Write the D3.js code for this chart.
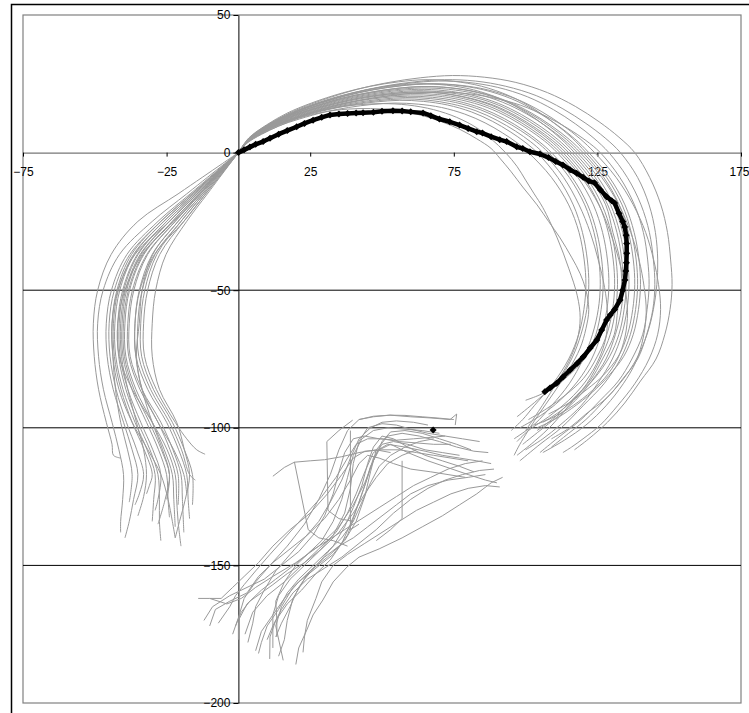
<!DOCTYPE html>
<html><head><meta charset="utf-8">
<script src="https://cdn.jsdelivr.net/npm/d3@7"></script>
<style>
body{margin:0;background:#fff}
svg{display:block}
text{font-family:Arial,"Liberation Sans",sans-serif;font-size:12px;fill:#000}
</style>
</head><body>
<svg id="chart" width="749" height="713"></svg>
<script>
// ---------- DATA ----------
const xTicks = [-75, -25, 25, 75, 125, 175];
const yTicks = [50, 0, -50, -100, -150, -200];
const gridY = [-50, -100, -150];

// right arc trajectories (x,y pairs)
const rightTracks = [
"0,0 4.1,5.6 11,10.6 19.3,15.1 29,19 41.4,23 52.4,25.5 63.5,27.2 74.5,28 85.6,27.4 96.6,25.5 107.6,21.8 117.3,16.8 125.6,11.2 132.5,5.6 138,0 143.2,-9 147.1,-19 149.4,-29 150.5,-39 151,-48 150.3,-57 148.5,-66 145.4,-75 140,-83 134.5,-91 128.5,-98 122,-104 117,-108",
"0,0 4,5.3 10.6,10.1 18.6,14.3 27.9,18 39.9,21.7 50.5,24.1 61.2,25.7 71.8,26.5 82.5,26 93.1,24.1 103.7,20.7 113,15.9 121,10.6 127.7,5.3 133,0 139,-9 143,-19 145.2,-29 146,-39 145.7,-48 144.5,-57 142.3,-66 138.6,-75 133.5,-83 127.5,-90 121,-97 115,-102 109,-107",
"0,0 3.9,5.2 10.3,9.9 18.1,14 27.1,17.7 38.7,21.3 49,23.7 59.3,25.2 69.7,26 80,25.5 90.3,23.7 100.6,20.3 109.7,15.6 117.4,10.4 123.8,5.2 129,0 135.4,-9 140.2,-19 143.1,-29 144.5,-39 145,-48 144.3,-57 142.2,-66 139,-75 134,-82 128.4,-89 121,-95 115.3,-100 109,-104",
"0,0 3.8,4.4 10.1,8.4 17.6,11.9 26.5,15 37.8,18 47.9,20 58,21.3 68,22 78.1,21.6 88.2,20 98.3,17.2 107.1,13.2 114.7,8.8 121,4.4 126,0 132.8,-9 137.9,-19 141,-29 142.5,-39 143,-48 142.3,-57 140.8,-66 137,-75 132.3,-83 126,-90 119,-97.3 112,-103 105,-109",
"0,0 3.7,5 9.9,9.5 17.4,13.5 26,17 37.2,20.5 47.1,22.8 57,24.3 67,25 76.9,24.5 86.8,22.8 96.7,19.5 105.4,15 112.8,10 119,5 124,0 131.5,-9 137.5,-19 141.8,-29 144.6,-39 146.3,-48 147,-57 146,-66 143,-75 138,-84 132,-92 126,-99 120,-104 116,-107 113,-109",
"0,0 3.7,5 9.8,9.5 17.1,13.5 25.6,17 36.6,20.5 46.4,22.8 56.1,24.3 65.9,25 75.6,24.5 85.4,22.8 95.2,19.5 103.7,15 111,10 117.1,5 122,0 129.2,-9 134.6,-19 137.8,-29 139.5,-39 140,-48 139.3,-57 137.5,-66 134.2,-74 129,-81 123.3,-87 116,-93 110,-97 104,-100",
"0,0 3.6,5.3 9.7,10 16.9,14.3 25.4,18 36.3,21.7 46,24.1 55.7,25.7 65.3,26.5 75,25.9 84.7,24.1 94.4,20.6 102.9,15.9 110.1,10.6 116.2,5.3 121,0 128.2,-9 133.6,-19 136.8,-29 138.5,-39 139,-48 138.3,-57 136.5,-66 133,-75 127.3,-84 120,-92 112.4,-100 105,-106 98,-112",
"0,0 3.6,4.8 9.6,9.1 16.8,13 25.2,16.3 36,19.7 45.6,21.8 55.2,23.3 64.8,24 74.4,23.5 84,21.8 93.6,18.7 102,14.4 109.2,9.6 115.2,4.8 120,0 127.2,-9 132.6,-19 135.8,-29 137.5,-39 138,-48 137.3,-57 135.5,-66 132.3,-74 127,-81 121.4,-86 115,-91 108,-95",
"0,0 3.6,4.8 9.5,9.1 16.7,13 25,16.3 35.7,19.7 45.2,21.8 54.7,23.3 64.3,24 73.8,23.5 83.3,21.8 92.8,18.7 101.2,14.4 108.3,9.6 114.2,4.8 119,0 126.5,-9 132.5,-19 136.6,-29 139.5,-39 141.3,-49 142,-58 141,-67 138.4,-76 134,-84 128,-92 121,-99 113.5,-104.5 106,-109",
"0,0 3.5,4.7 9.4,8.9 16.5,12.7 24.8,16 35.4,19.3 44.8,21.4 54.3,22.8 63.7,23.5 73.2,23 82.6,21.4 92,18.3 100.3,14.1 107.4,9.4 113.3,4.7 118,0 125.2,-9 130.6,-19 133.8,-29 135.5,-39 136,-48 135.3,-57 133.5,-66 130.2,-75 125,-84 119.3,-92 112,-99 106,-104 100,-108",
"0,0 3.5,5 9.4,9.5 16.4,13.5 24.6,17 35.1,20.5 44.5,22.8 53.8,24.3 63.2,25 72.5,24.5 81.9,22.8 91.3,19.5 99.5,15 106.5,10 112.3,5 117,0 124.2,-9 129.6,-19 132.8,-29 134.5,-39 135,-48 134.3,-57 132.5,-66 129.3,-74 124,-82 118.4,-88 112,-94 106,-98",
"0,0 3.5,4.6 9.3,8.7 16.2,12.4 24.4,15.6 34.8,18.9 44.1,20.9 53.4,22.3 62.6,23 71.9,22.5 81.2,20.9 90.5,17.9 98.6,13.8 105.6,9.2 111.4,4.6 116,0 123.2,-9 128.6,-19 131.8,-29 133.5,-39 134,-48 133.3,-57 131.3,-66 128,-75 123,-83 117.4,-90 111,-96 105,-101 99,-106",
"0,0 3.5,4.5 9.2,8.6 16.1,12.2 24.2,15.3 34.5,18.5 43.7,20.5 52.9,21.8 62.1,22.5 71.3,22 80.5,20.5 89.7,17.6 97.8,13.5 104.7,9 110.4,4.5 115,0 122.2,-9 127.9,-19 130.4,-29 132.8,-39 133.4,-48 132.1,-57 130.9,-66 126.8,-75 122.4,-83 116,-90 110.3,-96 104,-101",
"0,0 3.4,4.4 9.1,8.4 16,11.9 23.9,15 34.2,18 43.3,20 52.4,21.3 61.6,22 70.7,21.6 79.8,20 88.9,17.2 96.9,13.2 103.7,8.8 109.4,4.4 114,0 121.2,-9 126.6,-19 129.8,-29 131.5,-39 132,-48 131.3,-57 129.5,-66 126,-75 121.3,-84 115,-92 109.2,-99 103,-105 97,-110",
"0,0 3.4,4.4 9,8.4 15.8,11.9 23.7,15 33.9,18 42.9,20 52,21.3 61,22 70.1,21.6 79.1,20 88.1,17.2 96,13.2 102.8,8.8 108.5,4.4 113,0 120.2,-9 125.6,-19 128.8,-29 130.5,-39 131,-48 130.3,-57 128.3,-66 125,-74 120.2,-82 114,-88 107.4,-93 101,-97",
"0,0 3.4,4.3 9,8.2 15.7,11.6 23.5,14.6 33.6,17.6 42.6,19.6 51.5,20.9 60.5,21.5 69.4,21.1 78.4,19.6 87.4,16.8 95.2,12.9 101.9,8.6 107.5,4.3 112,0 119.5,-9 125.5,-19 129.5,-29 132.5,-39 134.6,-49 135.5,-58 134.6,-67 132,-75 127.5,-82 121.5,-88 115,-93 109,-96.5 103,-99",
"0,0 3.3,4.2 8.9,8 15.5,11.3 23.3,14.3 33.3,17.2 42.2,19.1 51.1,20.4 59.9,21 68.8,20.6 77.7,19.1 86.6,16.4 94.4,12.6 101,8.4 106.6,4.2 111,0 118.2,-9 123.6,-19 126.8,-29 128.5,-39 129,-48 128.3,-57 126.3,-66 123,-75 118.2,-83 112,-90 105.3,-95.5 98,-100",
"0,0 3.3,4.1 8.7,7.8 15.3,11.1 22.9,13.9 32.7,16.8 41.4,18.7 50.1,19.9 58.9,20.5 67.6,20.1 76.3,18.7 85,16 92.7,12.3 99.2,8.2 104.6,4.1 109,0 116.2,-9 121.6,-19 124.8,-29 126.5,-39 127,-48 126.3,-57 124.5,-66 121.2,-74 116,-80 110.3,-85 105,-88 100,-90",
"0,0 3.2,4 8.6,7.6 15.1,10.8 22.7,13.6 32.4,16.4 41,18.2 49.7,19.4 58.3,20 67,19.6 75.6,18.2 84.2,15.6 91.8,12 98.3,8 103.7,4 108,0 115.2,-9 120.6,-19 123.8,-29 125.5,-39 126,-48 125.3,-57 123.3,-66 120,-75 115.2,-84 109,-92 103.3,-98.5 96,-104",
"0,0 3.2,3.9 8.5,7.4 14.8,10.5 22.3,13.3 31.8,16 40.3,17.7 48.8,18.9 57.2,19.5 65.7,19.1 74.2,17.7 82.7,15.2 90.1,11.7 96.5,7.8 101.8,3.9 106,0 113.2,-9 118.6,-19 122.5,-29 125.3,-39 127.5,-49 128.5,-58 128,-67 125.5,-75 121,-83 115,-90 108,-96 101,-101 97,-105",
"0,0 3.1,3.8 8.3,7.2 14.6,10.3 21.8,12.9 31.2,15.6 39.5,17.3 47.8,18.4 56.2,19 64.5,18.6 72.8,17.3 81.1,14.8 88.4,11.4 94.6,7.6 99.8,3.8 104,0 111.2,-9 116.6,-19 119.8,-29 121.5,-39 122,-48 121.3,-57 119.3,-66 116,-75 111.2,-83 104,-90 97,-96",
"0,0 3,3.6 8.1,6.8 14.1,9.7 21.2,12.2 30.3,14.8 38.4,16.4 46.5,17.5 54.5,18 62.6,17.6 70.7,16.4 78.8,14 85.9,10.8 91.9,7.2 97,3.6 101,0 109,-9 115,-19 118.6,-29 120.4,-39 121,-48 120.3,-57 118.5,-66 115,-75 109.5,-84 103,-92 99,-97 95,-101",
"0,0 3,3.4 8,6.6 14,9.6 21,12.5 30,14.8 38,15.8 46,16 54,15.5 62,14 70,11.5 77,8.5 83,5 88,1.5 91,-2 95,-7 99,-12.5 104,-19 108,-25 112,-31 116,-38 119,-44 121,-50 122,-57 121,-64 119,-71 115,-79 110,-87 104,-96 98,-106 96,-110",
"0,0 3,3.8 8.5,7.3 15,10.5 23,13.6 32,16 41,17.3 50,17.8 59,17.3 68,15.6 76,12.8 83,9 88,5 93,0 97,-5 100,-10 103,-15 106,-20 111,-31 115,-42 118,-52 119,-60 118,-68 115,-76 110,-85 104.5,-94 100,-101"
];

// left arc trajectories
const leftTracks = [
"0,0 -5.6,-4 -12.6,-9 -21,-15 -35,-25 -44.3,-37 -49,-50 -50.5,-62 -50.2,-74 -48.7,-86 -46,-98 -44,-106 -43.5,-110 -41,-111",
"0,0 -4.8,-4 -10.8,-9 -18,-15 -30,-25 -41.4,-37 -47.1,-50 -49,-62 -48.7,-74 -47,-86 -44,-98 -41.6,-108 -40,-117 -40.3,-126 -41,-134 -41,-138",
"0,0 -4.5,-4 -10.1,-9 -16.8,-15 -28,-25 -38.8,-37 -44.2,-50 -46,-62 -45.7,-74 -43.6,-86 -40,-98 -37,-108 -35,-117 -36.5,-126 -38,-134 -39.5,-140",
"0,0 -4.3,-4 -9.7,-9 -16.2,-15 -27,-25 -37.8,-37 -43.2,-50 -45,-62 -44.7,-74 -42.6,-86 -39,-98 -35.4,-108 -33,-117 -34.5,-124 -36,-128",
"0,0 -4.3,-4 -9.7,-9 -16.2,-15 -27,-25 -37.2,-37 -42.3,-50 -44,-62 -43.7,-74 -41.6,-86 -37,-98 -31.5,-108 -27,-117 -24.5,-126 -23,-134 -22,-140",
"0,0 -4.2,-4 -9.4,-9 -15.6,-15 -26,-25 -36.5,-37 -41.8,-50 -43.5,-62 -43.2,-74 -40.9,-86 -37,-98 -32.8,-108 -30,-117 -31,-121 -32,-124",
"0,0 -4.2,-4 -9.4,-9 -15.6,-15 -26,-25 -36.2,-37 -41.3,-50 -43,-62 -42.7,-74 -40.2,-86 -36,-98 -31.8,-108 -29,-117 -29.5,-126 -30,-134",
"0,0 -4,-4 -9,-9 -15,-15 -25,-25 -35.2,-37 -40.3,-50 -42,-62 -41.7,-74 -39.2,-86 -35,-98 -30.8,-108 -28,-117 -27.5,-126 -27.5,-134 -27,-141",
"0,0 -4,-4 -9,-9 -15,-15 -25,-25 -34.9,-37 -39.9,-50 -41.5,-62 -41.2,-74 -38.5,-86 -34,-98 -29.8,-108 -27,-117 -28,-126 -29,-130",
"0,0 -3.8,-4 -8.6,-9 -14.4,-15 -24,-25 -34.2,-37 -39.3,-50 -41,-62 -40.7,-74 -38.5,-86 -35.5,-98 -33,-108 -32,-117 -33,-125 -35,-132",
"0,0 -3.8,-4 -8.6,-9 -14.4,-15 -24,-25 -33.9,-37 -38.9,-50 -40.5,-62 -40.2,-74 -37.1,-86 -32,-98 -27.8,-108 -25,-117 -24.5,-126 -24,-132.5",
"0,0 -3.7,-4 -8.3,-9 -13.8,-15 -23,-25 -33.2,-37 -38.3,-50 -40,-62 -39.7,-74 -36.4,-86 -31,-98 -26.8,-108 -24,-117 -25,-126",
"0,0 -3.7,-4 -8.3,-9 -13.8,-15 -23,-25 -32.9,-37 -37.9,-50 -39.5,-62 -39.2,-74 -35.7,-86 -30,-98 -25.8,-108 -23,-117 -22.5,-126 -22,-136",
"0,0 -3.6,-4 -8.1,-9 -13.5,-15 -22.5,-25 -33.5,-37 -39.5,-50 -42,-62 -41.5,-74 -37,-86 -30,-98 -24.8,-108 -22,-117 -21.5,-126 -21,-134 -20,-143",
"0,0 -3.5,-4 -7.9,-9 -13.2,-15 -22,-25 -31.9,-37 -36.9,-50 -38.5,-62 -38.2,-74 -34.3,-86 -28,-98 -23.8,-108 -21,-117 -21,-128",
"0,0 -3.5,-4 -7.9,-9 -13.2,-15 -22,-25 -31.6,-37 -36.4,-50 -38,-62 -37.7,-74 -33.6,-86 -27,-98 -22.8,-108 -20,-117 -19.5,-126 -19,-138",
"0,0 -3.4,-4 -7.6,-9 -12.6,-15 -21,-25 -29.8,-37 -33.5,-50 -34.5,-62 -35.5,-74 -33.5,-86 -28,-98 -22.5,-108 -19,-117 -18,-124",
"0,0 -3.4,-4 -7.6,-9 -12.6,-15 -21,-25 -30,-37 -34.5,-50 -36,-62 -35.7,-74 -31.6,-86 -25,-98 -20.8,-108 -18,-117 -17.5,-126 -17,-133",
"0,0 -3.2,-4 -7.2,-9 -12,-15 -20,-25 -29,-37 -33.5,-50 -35,-62 -34.7,-74 -30.6,-86 -24,-98 -19.8,-108 -17,-117 -15,-119",
"0,0 -3.2,-4 -7.2,-9 -12,-15 -20,-25 -28.4,-37 -32.6,-50 -34,-62 -33.7,-74 -29.6,-86 -23,-98 -18.8,-108 -16,-117 -16,-128",
"0,0 -3,-4 -6.8,-9 -11.4,-15 -19,-25 -27.4,-37 -31.6,-50 -33,-62 -32.7,-74 -28.6,-86 -22,-98 -18,-104 -14.5,-108 -11.6,-109.6",
"0,0 -2.9,-4 -6.5,-9 -10.8,-15 -18,-25 -25.2,-37 -28.8,-50 -30,-62 -30,-74 -27.5,-86 -21.5,-98 -18.8,-108 -17,-117 -18.5,-126 -20.5,-134 -22,-140",
"0,0 -3,-4 -6.8,-9 -11.4,-15 -19,-25 -29.2,-37 -34.3,-50 -36,-62 -35.7,-74 -33.6,-86 -30,-98 -26.4,-108 -24,-117 -25.5,-126 -28,-135",
"0,0 -3.8,-4 -8.6,-9 -14.4,-15 -24,-25 -36,-37 -42,-50 -44,-62 -43.7,-74 -42.8,-86 -41,-98 -38.6,-108 -37,-117 -38,-127"
];

// lower trajectories
const lowerTracks = [
"90,-120 86,-119 80,-117 73,-114.5 66,-112 59,-109 53,-106 49,-108 46,-114 44,-121 41,-130 38,-139 33,-146 27,-151 21,-156 16,-162 12,-168 8,-174 6,-181",
"87,-109 82,-108.5 76,-107 70,-105 63,-103 57,-102 52,-103 48,-108 46,-116 44,-125 41,-134 37,-141 31,-147 25,-152 19,-158 15,-165 13,-172 15.6,-184.5",
"81,-108 76,-106 70,-104 64,-102 58,-101 53,-101.5 50,-105 47,-112 44,-120 40,-128 35,-136 28,-143 20,-149 12,-154 6,-158 1,-162 -4,-164 -10,-162 -14,-162",
"75,-97 70,-96.5 64,-96 58,-95.5 52.8,-95.4 47,-96 42,-97 38,-101 35,-108 32,-117 28,-126 23,-135 17,-143 11,-150 6,-156 2,-162 0,-169 -2,-175",
"82,-116 77,-114 71,-112 65,-110 59,-107 54,-104 50,-103 47,-107 45,-113 43,-121 40,-129 37,-136 33,-143 28,-149 23,-155 19,-162 17,-170 16,-177 14,-183",
"88,-113 83,-112 77,-111 71,-110 65,-108.5 58,-107 52,-106 47,-109 44,-116 41,-124 38,-131 34,-138 28,-144 22,-150 16,-156 10,-161 5,-167 2.3,-175",
"84,-105 78,-104 72,-103 66,-102 60,-100.5 55,-99 50,-98.5 45,-100 42,-105 40,-113 39,-122 37,-131 33,-139 28,-145 23,-150 18,-155 14,-161 12,-168 12,-180",
"79,-118 73,-117 67,-116 60,-115 54,-113 49,-111 45,-110 42,-113 39,-119 35,-126 30,-133 24,-139 18,-144 12,-149 7,-154 3,-160 -3,-163 -8,-166 -10,-172",
"86,-117 80,-118 73,-119 66,-121 60,-124 55,-128 50,-132 45,-136 40,-140 35,-143 30,-147 25,-152 21,-158 18,-165 15,-171 13,-176",
"91,-121.5 86,-121 80,-122 74,-124 68,-127 62,-130 56,-134 50,-138 44,-142 38,-146 33,-150 29,-156 27,-162 24,-170 23,-176 22.5,-181.6",
"92,-118 88,-120 83,-124 77,-128 71,-132 64,-136 57,-140 49,-144 42,-147 37.8,-150.6 33,-156 29.4,-162.6 26,-168 23.8,-173.5 21,-180 20,-186",
"77,-110 71,-109 65,-108 59,-106 54,-105 50,-106 47,-111 45,-118 42,-127 39,-135 36,-142 32,-148 27,-153 22,-159 17,-164 13,-170 11,-176 10.9,-184",
"70,-102 64,-101 58,-100.5 52,-100 47,-101 43,-104 40,-110 38,-118 36,-126 33,-134 29,-141 24,-146 18,-151 13,-155 8,-159 3,-164 0,-170 0,-177",
"80,-112 74,-111 68,-110 62,-109 56,-108 50,-108 44,-108.5 40,-111 36,-117 31,-124 25,-131 18,-137 12,-143 7,-149 2,-154 -2,-158 -6,-162 -10,-162",
"74,-106 68,-106 62,-105.5 56,-105 50,-104 45,-104 41,-106 38,-111 34,-118 29,-125 23,-132 17,-139 11,-146 6,-152 2,-157 -1,-161 -3,-165 -7,-171",
"66,-99 61,-98 55,-97.5 50,-98 46,-100 42,-104 39,-111 36,-119 32,-127 28,-134 23,-140 18,-146 13,-152 9,-159 6,-165 5,-171 3.3,-178",
"85,-112 79,-113 73,-115 67,-118 61,-121 55,-125 49,-129 43,-133 37,-137 31,-141 25,-145 20,-150 16,-156 13,-163 13.4,-170 13.4,-176",
"72,-103 67,-103.5 61,-104 55,-104.5 49,-104 44,-103 40,-104 37,-109 35,-116 33,-124 30,-132 26,-139 21,-145 15,-150 9,-155 3,-158 -3,-161 -9,-165 -12,-170",
"68,-104 63,-105 58,-107 53,-110 49,-114 46,-120 43,-127 40,-134 36,-140 31,-145 26,-150 21,-155 17,-160 14,-166 10,-172 8,-178 7,-182",
"62,-108 57,-110 52,-113 48,-118 44,-124 40,-131 35,-138 29,-144 23,-149 17,-153 12,-157 8,-160 4,-163 1,-167 -1,-172",
"89,-115 84,-115.5 78,-117 72,-119 66,-122 60,-126 54,-131 48,-137 42,-142 36,-147 30,-151 24,-155 19,-160 15,-166 12,-172 10,-177"
];

// tracks with straight jumps
const jumpTracks = [
"12,-117.6 16,-114.4 19.5,-112.5 25,-112 30,-111.6 36,-110.5 42,-109 48,-108 53,-109",
"19.5,-112.4 24.3,-137 28,-140 33,-141 38,-143",
"39.8,-97.2 35,-101 30.8,-105 31.2,-130 35,-133 40,-134",
"57,-112 57,-133 53,-137 48,-141",
"39,-101 39,-137 42,-135",
"42,-97 47,-95.8 52.8,-95.4 60,-96 66.7,-96.4 73.7,-97 76,-95 75.5,-99"
];

// highlighted (black) trajectory
const blackTrack = "0,0 2,1 4,2 6,3 8.6,4 11,5.2 14,6.7 17,8 20.3,9.4 23,10.6 26,11.8 29,12.8 31.9,13.7 35,14 38,14.2 41,14.4 43.4,14.5 47,14.7 50,15 53.8,15.2 57,15.1 60,14.8 64.3,14.4 67,13.4 70,12.2 73.6,11.2 77,10 80,8.8 83,7.6 85,7.1 88,5.8 91,4.7 93.4,4 96.9,2.1 99,1.5 101.5,0.3 105,-0.5 108,-1.8 110.5,-3.2 113,-4.5 115.5,-6.2 117.8,-7.5 120,-9 122,-10.3 124,-11 126,-13.5 128.2,-16 130,-17.5 131,-18.3 132.5,-22 133.8,-25 134.5,-27 135,-30 135.2,-33 135.2,-36.6 135.1,-40 134.9,-43 134.6,-46.3 133.8,-50 132.9,-53.6 131,-57 129.5,-59 128.2,-60.8 126.5,-64.5 124.8,-68.1 122.5,-71 120.1,-74.2 118,-76.5 115.5,-79 113,-81.5 110.8,-83.8 108.5,-85.5 106.7,-86.9";
const blackSingle = "67.8,-100.8";

// ---------- DRAW ----------
const parse = s => s.trim().split(/\s+/).map(p => p.split(',').map(Number));
const svg = d3.select('#chart');
const x = d3.scaleLinear().domain([-75, 175]).range([23, 741]);
const y = d3.scaleLinear().domain([-200, 50]).range([703, 15]);

// chart area border
svg.append('rect').attr('x', 11.5).attr('y', 4.5).attr('width', 800).attr('height', 800)
  .attr('fill', '#fff').attr('stroke', '#000').attr('stroke-width', 1.5);

// plot area
svg.append('rect').attr('x', 23).attr('y', 15).attr('width', 718).attr('height', 688)
  .attr('fill', '#fff').attr('stroke', '#808080').attr('stroke-width', 1.2);

// gridlines
svg.append('g').selectAll('line').data(gridY).join('line')
  .attr('x1', 23).attr('x2', 741)
  .attr('y1', d => y(d)).attr('y2', d => y(d))
  .attr('stroke', '#000').attr('stroke-width', 1);

// axes
const xAxis = d3.axisBottom(x).tickValues(xTicks).tickSize(4).tickSizeOuter(0).tickPadding(10.5)
  .tickFormat(d3.format('d'));
const gx = svg.append('g').attr('transform', `translate(0,${y(0)})`).call(xAxis);
gx.select('.domain').attr('stroke', '#555');
gx.selectAll('.tick line').attr('stroke', '#000');
gx.selectAll('text').style('font-size', '12px').attr('fill', '#000');
gx.selectAll('.tick').filter(d => d === 175).select('text')
  .attr('text-anchor', 'end').attr('x', 8);

const yAxis = d3.axisLeft(y).tickValues(yTicks).tickSize(5).tickSizeOuter(0).tickPadding(3)
  .tickFormat(d3.format('d'));
const gy = svg.append('g').attr('transform', `translate(${x(0)},0)`).call(yAxis);
gy.select('.domain').attr('stroke', '#000');
gy.selectAll('.tick line').attr('stroke', '#000');
gy.selectAll('text').style('font-size', '12px').attr('fill', '#000');

// clip
svg.append('clipPath').attr('id', 'plotclip').append('rect')
  .attr('x', 23).attr('y', 15).attr('width', 718).attr('height', 688);
const series = svg.append('g').attr('clip-path', 'url(#plotclip)');

const smooth = d3.line().x(d => x(d[0])).y(d => y(d[1])).curve(d3.curveCatmullRom.alpha(0.5));
const straight = d3.line().x(d => x(d[0])).y(d => y(d[1]));
const grey = '#999999';

series.selectAll('path.r').data(rightTracks.map(parse)).join('path')
  .attr('class', 'r').attr('d', smooth).attr('fill', 'none').attr('stroke', grey).attr('stroke-width', 1);
series.selectAll('path.l').data(leftTracks.map(parse)).join('path')
  .attr('class', 'l').attr('d', smooth).attr('fill', 'none').attr('stroke', grey).attr('stroke-width', 1);
series.selectAll('path.b').data(lowerTracks.map(parse)).join('path')
  .attr('class', 'b').attr('d', straight).attr('fill', 'none').attr('stroke', grey).attr('stroke-width', 1);
series.selectAll('path.j').data(jumpTracks.map(parse)).join('path')
  .attr('class', 'j').attr('d', straight).attr('fill', 'none').attr('stroke', grey).attr('stroke-width', 1);

// black series
const bk = parse(blackTrack);
series.append('path').datum(bk).attr('d', straight).attr('fill', 'none')
  .attr('stroke', '#000').attr('stroke-width', 4.5).attr('stroke-linejoin', 'round');
const diamond = 'M0,-3.5L3.5,0L0,3.5L-3.5,0Z';
series.selectAll('path.dm').data(bk.concat(parse(blackSingle))).join('path')
  .attr('class', 'dm').attr('d', diamond)
  .attr('transform', d => `translate(${x(d[0])},${y(d[1])})`)
  .attr('fill', '#000');
</script>
</body></html>
